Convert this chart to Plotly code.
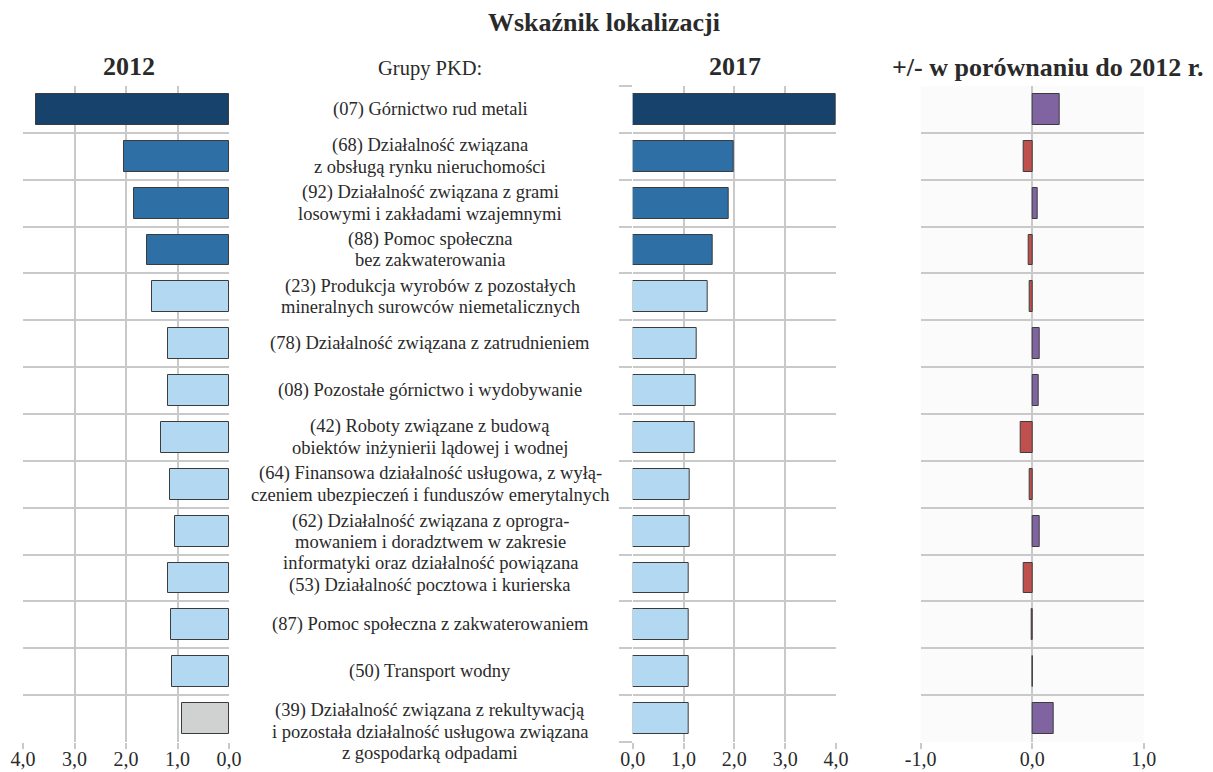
import plotly.graph_objects as go

W, H = 1213, 772

categories = [
    "(07) Górnictwo rud metali",
    "(68) Działalność związana<br>z obsługą rynku nieruchomości",
    "(92) Działalność związana z grami<br>losowymi i zakładami wzajemnymi",
    "(88) Pomoc społeczna<br>bez zakwaterowania",
    "(23) Produkcja wyrobów z pozostałych<br>mineralnych surowców niemetalicznych",
    "(78) Działalność związana z zatrudnieniem",
    "(08) Pozostałe górnictwo i wydobywanie",
    "(42) Roboty związane z budową<br>obiektów inżynierii lądowej i wodnej",
    "(64) Finansowa działalność usługowa, z wyłą-<br>czeniem ubezpieczeń i funduszów emerytalnych",
    "(62) Działalność związana z oprogra-<br>mowaniem i doradztwem w zakresie<br>informatyki oraz działalność powiązana",
    "(53) Działalność pocztowa i kurierska",
    "(87) Pomoc społeczna z zakwaterowaniem",
    "(50) Transport wodny",
    "(39) Działalność związana z rekultywacją<br>i pozostała działalność usługowa związana<br>z gospodarką odpadami",
]
values_2012 = [3.75, 2.04, 1.84, 1.59, 1.49, 1.18, 1.18, 1.32, 1.15, 1.05, 1.18, 1.12, 1.10, 0.91]
values_2017 = [4.00, 1.99, 1.88, 1.57, 1.48, 1.25, 1.24, 1.22, 1.13, 1.12, 1.11, 1.11, 1.11, 1.10]
values_diff = [0.25, -0.075, 0.045, -0.03, -0.02, 0.07, 0.06, -0.10, -0.025, 0.07, -0.075, -0.005, 0.003, 0.195]

ticks_main = [0, 1, 2, 3, 4]
ticktext_main = ["0,0", "1,0", "2,0", "3,0", "4,0"]
ticks_diff = [-1, 0, 1]
ticktext_diff = ["-1,0", "0,0", "1,0"]

# label vertical fine-tuning (px, negative = down)
label_shift = [0, 0, 0, 0, 0, 0, 0, 0, 0, -11, -7, 0, 0, -13]

FONT = "Liberation Serif"
GRID = "#C9C9C9"
TXT = "#2a2a2a"


def level_color(v):
    if v >= 3:
        return "#17426B"
    if v >= 1.5:
        return "#2E6FA5"
    if v >= 1:
        return "#B2D8F2"
    return "#D0D2D2"


def diff_color(v):
    return "#8064A2" if v >= 0 else "#C0504D"


n = len(categories)
pos = list(range(n))
boundaries = [i - 0.5 for i in range(n + 1)]

fig = go.Figure()
line = dict(color="#3C3C3C", width=1)
fig.add_trace(go.Bar(x=values_2012, y=pos, orientation="h", width=0.66,
                     marker=dict(color=[level_color(v) for v in values_2012], line=line),
                     xaxis="x", yaxis="y", showlegend=False))
fig.add_trace(go.Bar(x=values_2017, y=pos, orientation="h", width=0.66,
                     marker=dict(color=[level_color(v) for v in values_2017], line=line),
                     xaxis="x2", yaxis="y2", showlegend=False))
fig.add_trace(go.Bar(x=values_diff, y=pos, orientation="h", width=0.66,
                     marker=dict(color=[diff_color(v) for v in values_diff], line=line),
                     xaxis="x3", yaxis="y3", showlegend=False))

ydom = [(H - 742) / H, (H - 86) / H]
tickfont = dict(family=FONT, size=20, color=TXT)

xcommon = dict(showgrid=True, gridcolor=GRID, gridwidth=2, zeroline=False,
               ticks="outside", tickcolor=GRID, tickwidth=2, ticklen=6,
               ticklabelstandoff=-7,
               tickfont=tickfont, showline=False, fixedrange=True, automargin=False)
ycommon = dict(range=[n - 0.5, -0.5], tickvals=boundaries, showticklabels=False,
               showgrid=True, gridcolor=GRID, gridwidth=2, zeroline=False,
               domain=ydom, showline=False, fixedrange=True, automargin=False)

fig.update_layout(
    width=W, height=H, margin=dict(l=0, r=0, t=0, b=0, pad=0, autoexpand=False),
    paper_bgcolor="white", plot_bgcolor="white", bargap=0,
    xaxis=dict(domain=[23 / W, 229 / W], range=[4, 0], tickvals=ticks_main,
               ticktext=ticktext_main, anchor="y", **xcommon),
    yaxis=dict(anchor="x", ticks="", **ycommon),
    xaxis2=dict(domain=[632.7 / W, 836 / W], range=[0, 4], tickvals=ticks_main,
                ticktext=ticktext_main, anchor="y2", **xcommon),
    yaxis2=dict(anchor="x2", ticks="outside", ticklen=13, tickcolor=GRID, tickwidth=2, **ycommon),
    xaxis3=dict(domain=[920.7 / W, 1143.7 / W], range=[-1, 1], tickvals=ticks_diff,
                ticktext=ticktext_diff, anchor="y3", **xcommon),
    yaxis3=dict(anchor="x3", ticks="", **ycommon),
)

fig.add_shape(type="rect", xref="x3 domain", yref="y3 domain", x0=0, x1=1, y0=0, y1=1,
              fillcolor="#FBFBFB", line=dict(width=0), layer="below")

annotations = []


def head(text, xpx, ypx, size, bold=True):
    annotations.append(dict(
        text=f"<b>{text}</b>" if bold else text, x=xpx / W, y=1 - ypx / H,
        xref="paper", yref="paper", xanchor="center", yanchor="middle",
        showarrow=False, font=dict(family=FONT, size=size, color=TXT)))


head("Wskaźnik lokalizacji", 604, 23, 26)
head("2012", 129, 67, 26)
head("Grupy PKD:", 430, 69, 20.5, bold=False)
head("2017", 735, 67, 26)
head("+/- w porównaniu do 2012 r.", 1047, 68, 26)

LINE_H = 21
for i, label in enumerate(categories):
    lines = label.split("<br>")
    m = len(lines)
    for k, ln in enumerate(lines):
        annotations.append(dict(
            text=ln, x=430 / W, y=pos[i], xref="paper", yref="y",
            xanchor="center", yanchor="middle", showarrow=False,
            yshift=-(k - (m - 1) / 2) * LINE_H + label_shift[i],
            font=dict(family=FONT, size=18.5, color=TXT)))

fig.update_layout(annotations=annotations)
fig.write_html("out.html", config={"displayModeBar": False},
               post_script="document.body.style.margin='0';document.body.style.overflow='hidden';")
